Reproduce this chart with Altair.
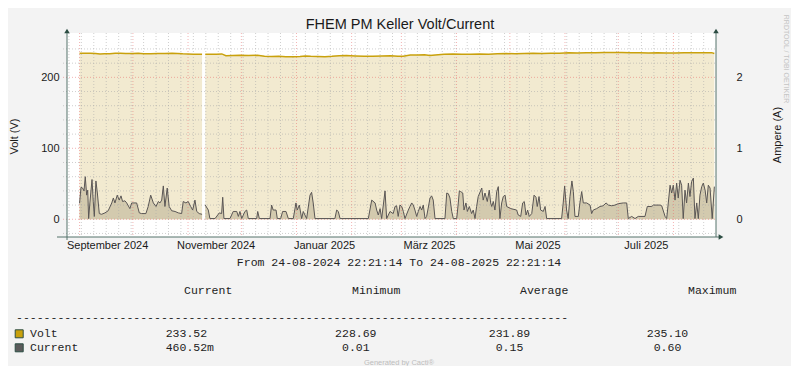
import altair as alt
import pandas as pd

# ---------------- data ----------------
title_text = "FHEM PM Keller Volt/Current"
data_start = "2024-09-01"

volt_day = [0, 3, 6, 9, 11.5, 14, 17, 20, 23, 26, 30, 33, 36, 40, 44, 48, 52, 55, 58, 61, 64, 66, 68.9,
            69.8,
            70.7, 74, 77, 80, 82.3, 86, 90, 95, 100, 104, 108, 112, 116, 120, 124, 127, 130, 134, 138,
            142, 146, 150, 155, 160, 165, 170, 175, 179, 182, 186, 190, 194, 197, 200, 205, 210, 215,
            220, 225, 230, 235, 240, 245, 250, 255, 260, 265, 270, 275, 280, 285, 290, 295, 300, 305,
            310, 315, 320, 325, 330, 335, 340, 345, 350, 355.5, 357]
volt_v = [233.8, 233.9, 234.0, 233.6, 233.0, 233.2, 233.3, 233.9, 233.8, 233.5, 233.6, 233.9, 233.4,
          233.3, 233.5, 233.6, 233.9, 233.7, 233.2, 233.0, 232.6, 232.5, 232.4,
          None,
          232.6, 232.4, 232.7, 233.0, 230.6, 230.9, 231.1, 230.8, 231.0, 229.8, 229.5, 229.6, 229.1,
          228.9, 229.3, 230.1, 229.6, 229.3, 229.1, 229.6, 230.5, 230.7, 230.2, 229.9, 229.7, 230.1,
          230.6, 229.9, 229.7, 231.6, 231.4, 231.7, 230.9, 231.5, 232.6, 232.8, 232.4, 232.5, 232.9,
          232.7, 233.2, 233.5, 233.3, 233.6, 233.8, 233.7, 234.0, 234.1, 234.5, 234.4, 234.6, 234.8,
          235.1, 234.9, 235.0, 234.7, 234.6, 234.4, 234.5, 234.2, 234.3, 234.6, 234.5, 234.7, 234.8,
          233.5]

cur_day = [0.0, 0.8, 1.7, 2.5, 3.2, 4.0, 4.6, 5.1, 5.8, 7.0, 7.7, 8.3, 9.2, 10.0, 11.1, 12.4, 14.3,
           16.1, 18.1, 19.0, 19.9, 21.2, 22.3, 23.3, 24.2, 25.5, 26.5, 28.3, 29.3, 30.6, 32.1, 33.6,
           34.9, 37.3, 38.6, 40.0, 41.5, 43.0, 44.3, 45.2, 46.2, 47.1, 48.0, 49.3, 50.4, 51.8, 53.7,
           55.5, 57.4, 58.3, 59.8, 61.1, 62.5, 63.6, 64.9, 65.9, 67.3, 68.9,
           69.8,
           70.7, 72.4, 73.3, 76.2, 78.6, 79.9, 80.5, 81.2, 84.6, 86.4, 88.4, 89.3, 90.2, 91.2, 93.0,
           94.0, 94.9, 99.6, 100.2, 101.1, 107.1, 108.0, 108.9, 110.5, 111.2, 113.1, 114.2, 116.1,
           117.4, 120.2, 121.7, 122.4, 123.6, 124.9, 125.8, 127.7, 129.6, 130.5, 131.4, 132.4, 143.6,
           144.6, 145.5, 146.5, 162.4, 164.3, 166.2, 167.1, 168.0, 169.0, 169.9, 171.8, 172.7, 174.6,
           176.4, 177.4, 178.3, 179.2, 180.2, 181.2, 182.1, 183.0, 184.9, 185.8, 186.8, 187.7, 188.6,
           189.6, 190.5, 191.5, 192.4, 193.3, 194.3, 195.2, 197.1, 198.0, 198.9, 199.9, 205.5, 206.5,
           207.4, 208.3, 209.3, 210.2, 212.1, 213.0, 213.6, 214.3, 215.5, 216.2, 217.3, 218.1, 219.2,
           220.5, 221.4, 222.4, 223.3, 224.2, 225.2, 226.2, 227.0, 228.0, 229.3, 230.4, 231.2, 231.8,
           232.7, 233.6, 234.6, 235.5, 236.4, 237.4, 238.3, 239.3, 240.2, 242.5, 245.8, 246.7, 248.1,
           249.2, 250.1, 251.1, 252.0, 252.9, 254.3, 255.6, 256.7, 257.4, 258.4, 259.3, 260.8, 261.8,
           262.7, 271.1, 272.0, 272.8, 273.9, 274.8, 275.8, 276.9, 277.7, 278.6, 280.5, 281.4, 282.4,
           283.3, 285.2, 287.1, 288.0, 288.9, 290.8, 292.7, 294.5, 296.1, 297.4, 299.3, 301.1, 303.0,
           305.8, 307.7, 308.6, 310.5, 312.4, 314.2, 318.0, 319.3, 321.8, 322.7, 326.5, 327.4, 329.3,
           330.2, 331.1, 332.1, 333.0, 333.9, 334.9, 335.8, 336.7, 337.7, 338.6, 339.5, 340.5, 341.4,
           342.4, 343.3, 344.2, 345.2, 346.1, 347.1, 348.0, 348.9, 349.9, 350.8, 351.8, 352.7, 353.6,
           354.6, 355.8, 357.0]
cur_amp = [0.225, 0.45, 0.44, 0.40, 0.60, 0.34, 0.41, 0.01, 0.23, 0.56, 0.25, 0.04, 0.54, 0.37, 0.08,
           0.07, 0.09, 0.12, 0.23, 0.30, 0.23, 0.34, 0.27, 0.33, 0.25, 0.26, 0.23, 0.15, 0.23, 0.23,
           0.23, 0.09, 0.08, 0.08, 0.18, 0.34, 0.23, 0.18, 0.25, 0.23, 0.27, 0.47, 0.18, 0.44, 0.18,
           0.12, 0.11, 0.09, 0.08, 0.25, 0.23, 0.25, 0.18, 0.13, 0.27, 0.11, 0.08, 0.07,
           None,
           0.20, 0.13, 0.01, 0.01, 0.09, 0.08, 0.31, 0.01, 0.01, 0.11, 0.11, 0.04, 0.11, 0.01, 0.11,
           0.13, 0.01, 0.01, 0.11, 0.01, 0.01, 0.20, 0.13, 0.13, 0.01, 0.01, 0.11, 0.11, 0.01, 0.01,
           0.23, 0.13, 0.20, 0.01, 0.11, 0.01, 0.34, 0.38, 0.23, 0.01, 0.01, 0.13, 0.11, 0.01, 0.01,
           0.27, 0.23, 0.13, 0.06, 0.15, 0.01, 0.40, 0.01, 0.11, 0.08, 0.18, 0.19, 0.04, 0.20, 0.18,
           0.11, 0.01, 0.13, 0.18, 0.23, 0.20, 0.13, 0.04, 0.11, 0.18, 0.13, 0.20, 0.01, 0.04, 0.30,
           0.33, 0.27, 0.01, 0.01, 0.37, 0.36, 0.30, 0.11, 0.01, 0.01, 0.23, 0.40, 0.39, 0.37, 0.13,
           0.23, 0.11, 0.18, 0.08, 0.13, 0.01, 0.18, 0.32, 0.38, 0.44, 0.27, 0.37, 0.25, 0.41, 0.23,
           0.18, 0.25, 0.13, 0.39, 0.46, 0.01, 0.23, 0.32, 0.34, 0.18, 0.15, 0.13, 0.06, 0.04, 0.23,
           0.25, 0.06, 0.13, 0.04, 0.08, 0.34, 0.31, 0.18, 0.32, 0.13, 0.11, 0.18, 0.01, 0.01, 0.23,
           0.47, 0.13, 0.01, 0.32, 0.54, 0.39, 0.04, 0.04, 0.23, 0.39, 0.23, 0.23, 0.20, 0.08, 0.13,
           0.15, 0.18, 0.19, 0.23, 0.20, 0.19, 0.20, 0.22, 0.23, 0.23, 0.01, 0.04, 0.01, 0.04, 0.04,
           0.18, 0.18, 0.20, 0.20, 0.19, 0.04, 0.01, 0.23, 0.48, 0.37, 0.48, 0.27, 0.51, 0.30, 0.55,
           0.48, 0.01, 0.41, 0.23, 0.51, 0.32, 0.53, 0.58, 0.01, 0.23, 0.01, 0.34, 0.46, 0.51, 0.41,
           0.23, 0.48, 0.44, 0.01, 0.46]

month_names = ["Januar", "Februar", "März", "April", "Mai", "Juni", "Juli", "August",
               "September", "Oktober", "November", "Dezember"]
label_months = [(2024, 9), (2024, 11), (2025, 1), (2025, 3), (2025, 5), (2025, 7)]
volt_major = [0, 100, 200]
volt_minor = [-20, 20, 40, 60, 80, 120, 140, 160, 180, 220, 240]
amp_ticks = [0, 1, 2]

range_text = "From 24-08-2024 22:21:14 To 24-08-2025 22:21:14"
legend_cols = ["Current", "Minimum", "Average", "Maximum"]
legend_rows = ["Volt", "Current"]
volt_stats = ["233.52", "228.69", "231.89", "235.10"]
cur_stats = ["460.52m", "0.01", "0.15", "0.60"]
y_title = "Volt (V)"
y2_title = "Ampere (A)"
watermark = "RRDTOOL / TOBI OETIKER"
footer = "Generated by Cacti®"

# ---------------- frames ----------------
base = pd.Timestamp(data_start)
volt_df = pd.DataFrame({"date": base + pd.to_timedelta(volt_day, unit="D"),
                        "v": pd.to_numeric(pd.Series(volt_v), errors="coerce")})
cur_df = pd.DataFrame({"date": base + pd.to_timedelta(cur_day, unit="D"),
                       "a": pd.to_numeric(pd.Series(cur_amp), errors="coerce")})
month_df = pd.DataFrame({"date": pd.date_range("2024-09-01", "2025-08-01", freq="MS")})
monday_df = pd.DataFrame({"date": pd.date_range("2024-08-26", "2025-08-24", freq="W-MON")})
hmaj_df = pd.DataFrame({"v": volt_major})
hmin_df = pd.DataFrame({"v": volt_minor})
one = pd.DataFrame({"k": [0]})

W, H = 649, 204
SANS = "Liberation Sans, Arial, sans-serif"
MONO = "Liberation Mono, Courier New, monospace"
AX_LINE = "#55736A"
ARROW = "#2C4D43"

xscale = alt.Scale(domain=[alt.DateTime(year=2024, month=8, date=24, hours=22, minutes=21, seconds=14),
                           alt.DateTime(year=2025, month=8, date=24, hours=22, minutes=21, seconds=14)])
yv = alt.Scale(domain=[-25, 262.5])
ya = alt.Scale(domain=[-0.25, 2.625])

names_js = "[" + ",".join("'" + m + "'" for m in month_names) + "]"
x_axis = alt.Axis(values=[alt.DateTime(year=y, month=m, date=16, hours=12) for y, m in label_months],
                  labelExpr=names_js + "[month(datum.value)] + ' ' + year(datum.value)",
                  domain=False, ticks=False, grid=False, title=None, labelPadding=2,
                  labelFont=SANS, labelFontSize=11, labelColor="#1a1a1a",
                  labelFlush=False, labelOverlap=False)
X = alt.X("date:T", scale=xscale, axis=x_axis)

left_axis = alt.Axis(values=volt_major, format="d", domain=False, ticks=False, grid=False,
                     title=None, labelPadding=8, labelFont=SANS, labelFontSize=11,
                     labelColor="#1a1a1a")
right_axis = alt.Axis(orient="right", values=amp_ticks, format="d", domain=False, ticks=False,
                      grid=False, title=None, labelPadding=20, labelAlign="left",
                      labelFont=SANS, labelFontSize=11, labelColor="#1a1a1a")

volt_area = alt.Chart(volt_df).mark_area(color="#F2EAD0", opacity=1).encode(
    x=X, y=alt.Y("v:Q", scale=yv, axis=left_axis), y2=alt.datum(0))
cur_area = alt.Chart(cur_df).mark_area(color="#D3CAAE", opacity=1).encode(
    x=X, y=alt.Y("a:Q", scale=ya, axis=right_axis), y2=alt.datum(0))

grid_w = alt.Chart(monday_df).mark_rule(color="#A8A8A8", opacity=0.55, strokeDash=[1, 2], strokeWidth=1).encode(
    x=X, y=alt.value(0), y2=alt.value(H))
grid_m = alt.Chart(month_df).mark_rule(color="#E86A6A", opacity=0.5, strokeDash=[1, 2], strokeWidth=1).encode(
    x=X, y=alt.value(0), y2=alt.value(H))
grid_hmin = alt.Chart(hmin_df).mark_rule(color="#A8A8A8", opacity=0.55, strokeDash=[1, 2], strokeWidth=1).encode(
    y=alt.Y("v:Q", scale=yv, axis=None), x=alt.value(-4), x2=alt.value(W + 1))
grid_hmaj = alt.Chart(hmaj_df).mark_rule(color="#E86A6A", opacity=0.5, strokeDash=[1, 2], strokeWidth=1).encode(
    y=alt.Y("v:Q", scale=yv, axis=None), x=alt.value(-4), x2=alt.value(W + 1))

volt_line = alt.Chart(volt_df).mark_line(color="#C9A10C", strokeWidth=1.5).encode(
    x=X, y=alt.Y("v:Q", scale=yv, axis=None))
cur_line = alt.Chart(cur_df).mark_line(color="#5A5655", strokeWidth=1).encode(
    x=X, y=alt.Y("a:Q", scale=ya, axis=None))

# axis lines and arrows
ax_left = alt.Chart(one).mark_rule(color=AX_LINE, strokeWidth=1).encode(
    x=alt.value(0), y=alt.value(-3), y2=alt.value(H + 3))
ax_right = alt.Chart(one).mark_rule(color=AX_LINE, strokeWidth=1).encode(
    x=alt.value(W), y=alt.value(-3), y2=alt.value(H))
ax_bottom = alt.Chart(one).mark_rule(color=AX_LINE, strokeWidth=1).encode(
    x=alt.value(-10), x2=alt.value(W + 4), y=alt.value(H))
arr_left = alt.Chart(one).mark_point(shape="triangle-up", filled=True, color=ARROW, opacity=1, size=30).encode(
    x=alt.value(0), y=alt.value(-2))
arr_right = alt.Chart(one).mark_point(shape="triangle-up", filled=True, color=ARROW, opacity=1, size=30).encode(
    x=alt.value(W), y=alt.value(-2))
arr_bottom = alt.Chart(one).mark_point(shape="triangle-right", filled=True, color=ARROW, opacity=1, size=30).encode(
    x=alt.value(W + 5), y=alt.value(H))


def txt(s, x, y, align="left", font=MONO, size=11.5, color="#222222", angle=0, baseline="alphabetic"):
    return alt.Chart(pd.DataFrame({"t": [s]})).mark_text(
        align=align, baseline=baseline, font=font, fontSize=size, color=color, angle=angle).encode(
        x=alt.value(x), y=alt.value(y), text="t:N")


texts = [
    txt(title_text, 333, -4.5, align="center", font=SANS, size=14.5, color="#1a1a1a"),
    txt(y_title, -52, 103.5, align="center", font=SANS, size=11, color="#1a1a1a", angle=270, baseline="middle"),
    txt(y2_title, 711, 102, align="center", font=SANS, size=11, color="#1a1a1a", angle=270, baseline="middle"),
    txt(watermark, 719, 26, align="center", font=SANS, size=7, color="#C4C4C4", angle=90, baseline="middle"),
    txt(range_text, 332, 233, align="center"),
    txt(legend_cols[0], 117, 261),
    txt(legend_cols[1], 285, 261),
    txt(legend_cols[2], 453, 261),
    txt(legend_cols[3], 621, 261),
    txt("-" * 80, -51, 288),
    txt(legend_rows[0], -37, 303.5),
    txt(volt_stats[0], 98.7, 303.5),
    txt(volt_stats[1], 288.8, 303.5, align="center"),
    txt(volt_stats[2], 442.5, 303.5, align="center"),
    txt(volt_stats[3], 600.5, 303.5, align="center"),
    txt(legend_rows[1], -37, 317.5),
    txt(cur_stats[0], 98.7, 317.5),
    txt(cur_stats[1], 288.8, 317.5, align="center"),
    txt(cur_stats[2], 442.5, 317.5, align="center"),
    txt(cur_stats[3], 600.5, 317.5, align="center"),
    txt(footer, 332, 331.5, align="center", font=SANS, size=7.5, color="#BDBDBD"),
]

sw_volt = alt.Chart(one).mark_square(size=64, color="#C9A10C", stroke=ARROW, strokeWidth=1, opacity=1).encode(
    x=alt.value(-47.8), y=alt.value(300.8))
sw_cur = alt.Chart(one).mark_square(size=64, color="#5B5B5B", stroke=ARROW, strokeWidth=1, opacity=1).encode(
    x=alt.value(-47.8), y=alt.value(314.8))

chart = alt.layer(
    volt_area, cur_area, grid_w, grid_m, grid_hmin, grid_hmaj, volt_line, cur_line,
    ax_left, ax_right, ax_bottom, arr_left, arr_right, arr_bottom, sw_volt, sw_cur, *texts
).resolve_scale(y="independent").properties(
    width=W, height=H,
    autosize=alt.AutoSizeParams(type="none"),
    padding={"left": 59, "top": 25, "right": 75, "bottom": 129},
    background="#F3F3F3",
).configure_view(fill="white", stroke=None)

chart.save("out.html", embed_options={"renderer": "svg", "actions": False})
